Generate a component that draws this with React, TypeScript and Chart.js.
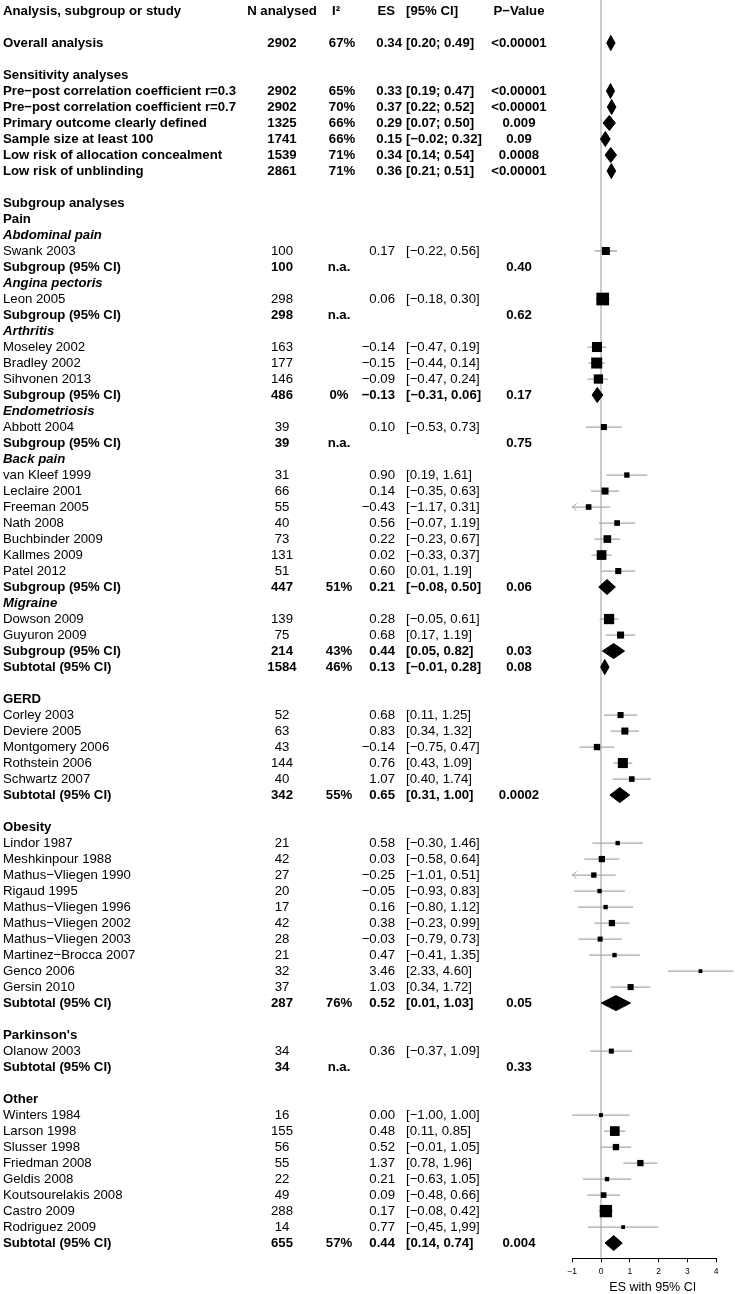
import React, { useEffect, useRef } from 'react';
import { Chart, registerables } from 'chart.js';

Chart.register(...registerables);

const FONT = '"Liberation Sans", Arial, Helvetica, sans-serif';

// ---------- column titles & axis ----------
const columnTitles = ['Analysis, subgroup or study', 'N analysed', 'I²', 'ES', '[95% CI]', 'P−Value'];
const xTicks = [-1, 0, 1, 2, 3, 4];
const xAxisTitle = 'ES with 95% CI';

// ---------- individual studies ----------
const studyNames = [
  'Swank 2003', 'Leon 2005', 'Moseley 2002', 'Bradley 2002', 'Sihvonen 2013', 'Abbott 2004',
  'van Kleef 1999', 'Leclaire 2001', 'Freeman 2005', 'Nath 2008', 'Buchbinder 2009', 'Kallmes 2009', 'Patel 2012',
  'Dowson 2009', 'Guyuron 2009',
  'Corley 2003', 'Deviere 2005', 'Montgomery 2006', 'Rothstein 2006', 'Schwartz 2007',
  'Lindor 1987', 'Meshkinpour 1988', 'Mathus−Vliegen 1990', 'Rigaud 1995', 'Mathus−Vliegen 1996',
  'Mathus−Vliegen 2002', 'Mathus−Vliegen 2003', 'Martinez−Brocca 2007', 'Genco 2006', 'Gersin 2010',
  'Olanow 2003',
  'Winters 1984', 'Larson 1998', 'Slusser 1998', 'Friedman 2008', 'Geldis 2008', 'Koutsourelakis 2008',
  'Castro 2009', 'Rodriguez 2009',
];
const studyN = [100, 298, 163, 177, 146, 39, 31, 66, 55, 40, 73, 131, 51, 139, 75, 52, 63, 43, 144, 40,
  21, 42, 27, 20, 17, 42, 28, 21, 32, 37, 34, 16, 155, 56, 55, 22, 49, 288, 14];
const studyES = [0.17, 0.06, -0.14, -0.15, -0.09, 0.10, 0.90, 0.14, -0.43, 0.56, 0.22, 0.02, 0.60, 0.28, 0.68,
  0.68, 0.83, -0.14, 0.76, 1.07, 0.58, 0.03, -0.25, -0.05, 0.16, 0.38, -0.03, 0.47, 3.46, 1.03, 0.36,
  0.00, 0.48, 0.52, 1.37, 0.21, 0.09, 0.17, 0.77];
const studyLo = [-0.22, -0.18, -0.47, -0.44, -0.47, -0.53, 0.19, -0.35, -1.17, -0.07, -0.23, -0.33, 0.01, -0.05, 0.17,
  0.11, 0.34, -0.75, 0.43, 0.40, -0.30, -0.58, -1.01, -0.93, -0.80, -0.23, -0.79, -0.41, 2.33, 0.34, -0.37,
  -1.00, 0.11, -0.01, 0.78, -0.63, -0.48, -0.08, -0.45];
const studyHi = [0.56, 0.30, 0.19, 0.14, 0.24, 0.73, 1.61, 0.63, 0.31, 1.19, 0.67, 0.37, 1.19, 0.61, 1.19,
  1.25, 1.32, 0.47, 1.09, 1.74, 1.46, 0.64, 0.51, 0.83, 1.12, 0.99, 0.73, 1.35, 4.60, 1.72, 1.09,
  1.00, 0.85, 1.05, 1.96, 1.05, 0.66, 0.42, 1.99];
// relative study weights (box area)
const studyWeight = [4.0, 10.1, 6.3, 7.6, 5.4, 2.3, 1.8, 3.1, 2.0, 2.0, 3.7, 5.9, 2.3, 6.6, 3.1,
  2.3, 3.1, 2.5, 6.3, 2.0, 1.2, 2.5, 1.8, 1.2, 1.2, 2.5, 1.6, 1.2, 0.9, 2.3, 1.6,
  1.0, 5.9, 2.5, 2.5, 1.2, 2.0, 9.5, 0.9];
const studyCIOverride: Record<number, string> = { 38: '[−0,45, 1,99]' };

// ---------- pooled analyses ----------
const pooledLabels = [
  'Overall analysis',
  'Pre−post correlation coefficient r=0.3', 'Pre−post correlation coefficient r=0.7',
  'Primary outcome clearly defined', 'Sample size at least 100',
  'Low risk of allocation concealment', 'Low risk of unblinding',
  'Subgroup (95% CI)', 'Subgroup (95% CI)', 'Subgroup (95% CI)', 'Subgroup (95% CI)', 'Subgroup (95% CI)', 'Subgroup (95% CI)',
  'Subtotal (95% CI)', 'Subtotal (95% CI)', 'Subtotal (95% CI)', 'Subtotal (95% CI)', 'Subtotal (95% CI)',
];
const pooledN = [2902, 2902, 2902, 1325, 1741, 1539, 2861, 100, 298, 486, 39, 447, 214, 1584, 342, 287, 34, 655];
const pooledI2 = ['67%', '65%', '70%', '66%', '66%', '71%', '71%', 'n.a.', 'n.a.', '0%', 'n.a.', '51%', '43%', '46%', '55%', '76%', 'n.a.', '57%'];
const pooledES = [0.34, 0.33, 0.37, 0.29, 0.15, 0.34, 0.36, null, null, -0.13, null, 0.21, 0.44, 0.13, 0.65, 0.52, null, 0.44];
const pooledLo = [0.20, 0.19, 0.22, 0.07, -0.02, 0.14, 0.21, null, null, -0.31, null, -0.08, 0.05, -0.01, 0.31, 0.01, null, 0.14];
const pooledHi = [0.49, 0.47, 0.52, 0.50, 0.32, 0.54, 0.51, null, null, 0.06, null, 0.50, 0.82, 0.28, 1.00, 1.03, null, 0.74];
const pooledP = ['<0.00001', '<0.00001', '<0.00001', '0.009', '0.09', '0.0008', '<0.00001', '0.40', '0.62', '0.17', '0.75',
  '0.06', '0.03', '0.08', '0.0002', '0.05', '0.33', '0.004'];

// ---------- row order: T = titles, '' = blank, h: heading, g: italic sub-heading, s# study, p# pooled ----------
const rowLayout = [
  'T', '', 'p0', '', 'h:Sensitivity analyses', 'p1', 'p2', 'p3', 'p4', 'p5', 'p6', '',
  'h:Subgroup analyses', 'h:Pain',
  'g:Abdominal pain', 's0', 'p7',
  'g:Angina pectoris', 's1', 'p8',
  'g:Arthritis', 's2', 's3', 's4', 'p9',
  'g:Endometriosis', 's5', 'p10',
  'g:Back pain', 's6', 's7', 's8', 's9', 's10', 's11', 's12', 'p11',
  'g:Migraine', 's13', 's14', 'p12',
  'p13', '',
  'h:GERD', 's15', 's16', 's17', 's18', 's19', 'p14', '',
  'h:Obesity', 's20', 's21', 's22', 's23', 's24', 's25', 's26', 's27', 's28', 's29', 'p15', '',
  "h:Parkinson's", 's30', 'p16', '',
  'h:Other', 's31', 's32', 's33', 's34', 's35', 's36', 's37', 's38', 'p17',
];

const X_MIN = -1;
const X_MAX = 4.6;
const Y_MIN = -0.6875;
const Y_MAX = 77.95;

const fmt = (v: number) => (v < 0 ? '−' : '') + Math.abs(v).toFixed(2);

const COL = { label: 3, n: 282, i2: 339, i2Top: 342, esRight: 395, esRightTop: 402, ci: 406, p: 519 };
const BOLD = `bold 13.2px ${FONT}`;
const BOLDIT = `italic bold 13.2px ${FONT}`;
const REG = `13.2px ${FONT}`;

export default function App() {
  const ref = useRef<HTMLCanvasElement>(null);

  useEffect(() => {
    const canvas = ref.current;
    if (!canvas) return;

    const studyRow: number[] = [];
    const pooledRow: number[] = [];
    rowLayout.forEach((tok, r) => {
      if (tok[0] === 's') studyRow[+tok.slice(1)] = r;
      else if (tok[0] === 'p') pooledRow[+tok.slice(1)] = r;
    });

    const ciData: any[] = [];
    const arrowData: any[] = [];
    studyNames.forEach((_, i) => {
      const r = studyRow[i];
      ciData.push({ x: Math.max(studyLo[i], X_MIN), y: r }, { x: Math.min(studyHi[i], X_MAX), y: r }, { x: null, y: null });
      if (studyLo[i] < X_MIN) {
        arrowData.push({ x: X_MIN + 0.15, y: r - 0.22 }, { x: X_MIN, y: r }, { x: X_MIN + 0.15, y: r + 0.22 }, { x: null, y: null });
      }
    });
    const squareData = studyNames.map((_, i) => ({ x: studyES[i], y: studyRow[i] }));
    const squareRadius = studyWeight.map((w) => (4 * Math.sqrt(w)) / Math.SQRT2);

    const diamondSets: any[] = [];
    pooledES.forEach((es, k) => {
      if (es == null) return;
      const r = pooledRow[k];
      const lo = pooledLo[k] as number;
      const hi = pooledHi[k] as number;
      diamondSets.push({
        type: 'line',
        data: [{ x: lo, y: r }, { x: es, y: r - 0.47 }, { x: hi, y: r }, { x: es, y: r + 0.47 }, { x: lo, y: r }],
        borderColor: '#000',
        backgroundColor: '#000',
        borderWidth: 1,
        pointRadius: 0,
        fill: 'shape',
        tension: 0,
        order: 1,
        clip: false,
      });
    });

    const textPlugin = {
      id: 'forestText',
      afterDraw(chart: any) {
        const ctx = chart.ctx;
        const ys = chart.scales.y;
        ctx.save();
        ctx.fillStyle = '#000';
        ctx.textBaseline = 'middle';
        const put = (t: string, x: number, y: number, align: string, font: string) => {
          ctx.font = font;
          ctx.textAlign = align;
          ctx.fillText(t, x, y);
        };
        rowLayout.forEach((tok, r) => {
          const y = ys.getPixelForValue(r);
          if (tok === 'T') {
            put(columnTitles[0], COL.label, y, 'left', BOLD);
            put(columnTitles[1], COL.n, y, 'center', BOLD);
            put(columnTitles[2], 336, y, 'center', BOLD);
            put(columnTitles[3], COL.esRight, y, 'right', BOLD);
            put(columnTitles[4], COL.ci, y, 'left', BOLD);
            put(columnTitles[5], COL.p, y, 'center', BOLD);
          } else if (tok.startsWith('h:')) {
            put(tok.slice(2), COL.label, y, 'left', BOLD);
          } else if (tok.startsWith('g:')) {
            put(tok.slice(2), COL.label, y, 'left', BOLDIT);
          } else if (tok[0] === 's') {
            const i = +tok.slice(1);
            put(studyNames[i], COL.label, y, 'left', REG);
            put(String(studyN[i]), COL.n, y, 'center', REG);
            put(fmt(studyES[i]), COL.esRight, y, 'right', REG);
            const ci = studyCIOverride[i] ?? `[${fmt(studyLo[i])}, ${fmt(studyHi[i])}]`;
            put(ci, COL.ci, y, 'left', REG);
          } else if (tok[0] === 'p') {
            const k = +tok.slice(1);
            const top = k <= 6;
            put(pooledLabels[k], COL.label, y, 'left', BOLD);
            put(String(pooledN[k]), COL.n, y, 'center', BOLD);
            put(pooledI2[k], top ? COL.i2Top : COL.i2, y, 'center', BOLD);
            const es = pooledES[k];
            if (es != null) {
              put(fmt(es), top ? COL.esRightTop : COL.esRight, y, 'right', BOLD);
              const sep = top ? '; ' : ', ';
              put(`[${fmt(pooledLo[k] as number)}${sep}${fmt(pooledHi[k] as number)}]`, COL.ci, y, 'left', BOLD);
            }
            put(pooledP[k], COL.p, y, 'center', BOLD);
          }
        });
        ctx.restore();
      },
    };

    const axisLinePlugin = {
      id: 'axisLine',
      afterDraw(chart: any) {
        const ctx = chart.ctx;
        const xs = chart.scales.x;
        const y = Math.round(chart.chartArea.bottom) + 0.5;
        ctx.save();
        ctx.strokeStyle = '#000';
        ctx.lineWidth = 1;
        ctx.beginPath();
        ctx.moveTo(xs.getPixelForValue(xTicks[0]), y);
        ctx.lineTo(xs.getPixelForValue(xTicks[xTicks.length - 1]), y);
        ctx.stroke();
        ctx.restore();
      },
    };

    const chart = new Chart(canvas, {
      type: 'scatter',
      data: {
        datasets: [
          {
            data: squareData,
            pointStyle: 'rect',
            pointRadius: squareRadius,
            pointBackgroundColor: '#000',
            pointBorderWidth: 0,
            backgroundColor: '#000',
            borderWidth: 0,
            order: 1,
            clip: false,
          } as any,
          ...diamondSets,
          {
            type: 'line',
            data: ciData,
            borderColor: '#a8a8a8',
            borderWidth: 1.3,
            pointRadius: 0,
            spanGaps: false,
            fill: false,
            order: 5,
            clip: false,
          },
          {
            type: 'line',
            data: arrowData,
            borderColor: '#a8a8a8',
            borderWidth: 1,
            pointRadius: 0,
            spanGaps: false,
            fill: false,
            order: 5,
            clip: false,
          },
          {
            type: 'line',
            data: [{ x: 0, y: Y_MIN }, { x: 0, y: Y_MAX }],
            borderColor: '#c4c4c4',
            borderWidth: 1,
            pointRadius: 0,
            fill: false,
            order: 10,
            clip: false,
          },
        ],
      },
      options: {
        animation: false,
        responsive: false,
        events: [],
        layout: { autoPadding: false, padding: { left: 572.25, right: 1.75, top: 0, bottom: 0 } },
        plugins: { legend: { display: false }, tooltip: { enabled: false } },
        scales: {
          x: {
            type: 'linear',
            min: X_MIN,
            max: X_MAX,
            afterBuildTicks: (s: any) => {
              s.ticks = xTicks.map((v) => ({ value: v }));
            },
            grid: { display: true, drawOnChartArea: false, drawTicks: true, tickLength: 4, color: '#000', lineWidth: 1 },
            border: { display: false },
            ticks: {
              font: { size: 8.5, family: FONT },
              color: '#000',
              padding: 4.5,
              maxRotation: 0,
              autoSkip: false,
              callback: (v: any) => (v < 0 ? '−' + Math.abs(v) : String(v)),
            },
            title: {
              display: true,
              text: xAxisTitle,
              font: { size: 12.5, family: FONT, lineHeight: 1.0 },
              color: '#000',
              padding: { top: 0, bottom: 0 },
            },
          },
          y: { type: 'linear', reverse: true, min: Y_MIN, max: Y_MAX, display: false },
        },
      } as any,
      plugins: [textPlugin, axisLinePlugin],
    });

    return () => chart.destroy();
  }, []);

  return (
    <div style={{ position: 'absolute', left: 0, top: 0, width: 735, height: 1294, background: '#fff' }}>
      <canvas ref={ref} width={735} height={1294} style={{ display: 'block', width: 735, height: 1294 }} />
    </div>
  );
}
